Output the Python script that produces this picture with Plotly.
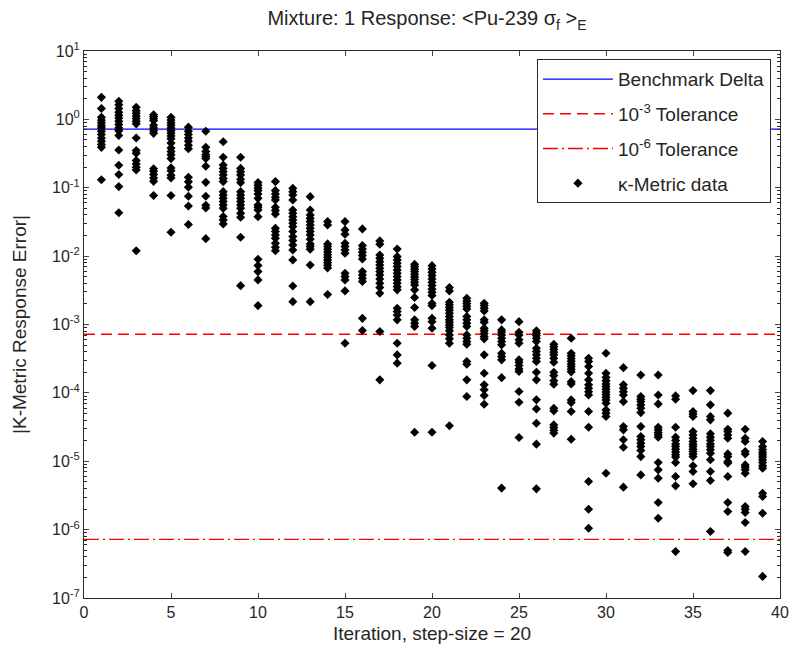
import plotly.graph_objects as go

# |K-metric response error| samples for each iteration (step-size = 20)
it01 = [2.1, 1.44, 1.07, 0.97, 0.885, 0.81, 0.75, 0.67, 0.60, 0.535, 0.48, 0.43, 0.39, 0.131]
it02 = [1.84, 1.64, 1.44, 1.27, 1.15, 1.05, 0.94, 0.84, 0.75, 0.68, 0.58, 0.357, 0.213, 0.156, 0.104, 0.043]
it03 = [1.50, 1.34, 1.23, 1.12, 1.03, 0.94, 0.86, 0.535, 0.35, 0.32, 0.25, 0.223, 0.199, 0.182, 0.012]
it04 = [1.17, 1.10, 1.03, 0.96, 0.82, 0.75, 0.68, 0.625, 0.19, 0.174, 0.156, 0.139, 0.124, 0.077]
it05 = [1.07, 0.98, 0.895, 0.82, 0.75, 0.68, 0.625, 0.57, 0.52, 0.45, 0.38, 0.34, 0.305, 0.267,
        0.195, 0.178, 0.152, 0.139, 0.077, 0.0223]
it06 = [0.77, 0.67, 0.60, 0.535, 0.48, 0.42, 0.373, 0.142, 0.122, 0.102, 0.075, 0.054, 0.029]
it07 = [0.67, 0.39, 0.34, 0.305, 0.285, 0.267, 0.206, 0.12, 0.075, 0.0555, 0.0507, 0.018]
it08 = [0.47, 0.28, 0.215, 0.192, 0.172, 0.154, 0.137, 0.123, 0.0877, 0.0785, 0.070, 0.0627,
        0.056, 0.050, 0.038, 0.0338, 0.0296]
it09 = [0.28, 0.192, 0.172, 0.154, 0.133, 0.119, 0.0877, 0.0785, 0.070, 0.0627, 0.056, 0.050,
        0.0424, 0.037, 0.0189, 0.0037]
it10 = [0.119, 0.109, 0.0993, 0.0908, 0.0811, 0.070, 0.056, 0.0518, 0.0473, 0.0378, 0.009,
        0.00728, 0.00594, 0.00449, 0.00189]
it11 = [0.123, 0.0908, 0.0811, 0.0726, 0.0664, 0.0518, 0.0463, 0.0414, 0.0255, 0.0229, 0.0204,
        0.0182, 0.0154, 0.0135, 0.012]
it12 = [0.098, 0.0877, 0.0785, 0.0664, 0.0473, 0.0424, 0.0378, 0.0338, 0.0302, 0.027, 0.0229,
        0.0193, 0.0169, 0.0146, 0.0123, 0.0088, 0.00366, 0.00216]
it13 = [0.0741, 0.0473, 0.040, 0.0357, 0.032, 0.0286, 0.0255, 0.0229, 0.0204, 0.0177, 0.0151,
        0.0138, 0.0126, 0.00743, 0.00216]
it14 = [0.032, 0.0286, 0.0151, 0.0138, 0.0126, 0.0115, 0.0105, 0.0096, 0.0088, 0.0080, 0.00735,
        0.0067, 0.00274]
it15 = [0.032, 0.0242, 0.0209, 0.0154, 0.0138, 0.0123, 0.011, 0.00561, 0.00502, 0.00449, 0.0031,
        0.000532]
it16 = [0.025, 0.01426, 0.01274, 0.01138, 0.0102, 0.0091, 0.00594, 0.00531, 0.00474, 0.00425,
        0.00123, 0.000815]
it17 = [0.0167, 0.0149, 0.0104, 0.0093, 0.0083, 0.00743, 0.00665, 0.00594, 0.00531, 0.00464,
        0.00401, 0.00347, 0.00286, 0.000789, 0.000155]
it18 = [0.0127, 0.00984, 0.0088, 0.00787, 0.00703, 0.00628, 0.00561, 0.00502, 0.00449, 0.00401,
        0.00358, 0.00321, 0.00173, 0.00155, 0.00138, 0.00117, 0.000532, 0.000359, 0.000272]
it19 = [0.0076, 0.00703, 0.0065, 0.00594, 0.00543, 0.00497, 0.00454, 0.00415, 0.00379, 0.00321,
        0.00248, 0.00177, 0.00117, 0.00104, 0.000933, 2.66e-5]
it20 = [0.00726, 0.0065, 0.00581, 0.00519, 0.00464, 0.00415, 0.00371, 0.00331, 0.00296, 0.00265,
        0.00205, 0.00189, 0.00123, 0.0011, 0.00088, 0.000251, 2.66e-5]
it21 = [0.00347, 0.0031, 0.00212, 0.00194, 0.00177, 0.00162, 0.00146, 0.00131, 0.00117, 0.00108,
        0.000986, 0.000902, 0.000807, 0.000705, 0.000617, 0.000532, 3.3e-5]
it22 = [0.00242, 0.00221, 0.00202, 0.00185, 0.00169, 0.00131, 0.00117, 0.00104, 0.000933,
        0.000705, 0.00063, 0.000564, 0.000515, 0.000287, 0.000262, 0.000155, 8.85e-5]
it23 = [0.00205, 0.00189, 0.00173, 0.00158, 0.00117, 0.00108, 0.000883, 0.000807, 0.000738,
        0.000667, 0.000617, 0.00036, 0.000194, 0.000131, 0.000111, 9.14e-5, 6.82e-5]
it24 = [0.00117, 0.000834, 0.000771, 0.000705, 0.00063, 0.000564, 0.000504, 0.00038, 0.00034,
        0.000304, 0.000167, 4.05e-6]
it25 = [0.0011, 0.000771, 0.000705, 0.000596, 0.000532, 0.000304, 0.000281, 0.000251, 0.000224,
        0.000205, 0.000105, 7.31e-5, 2.22e-5]
it26 = [0.000807, 0.000746, 0.000689, 0.00063, 0.000564, 0.00045, 0.000403, 0.00036, 0.000321,
        0.000287, 0.0002, 0.000155, 7.9e-5, 5.83e-5, 3.6e-5, 1.78e-5, 3.95e-6]
it27 = [0.000515, 0.000471, 0.000431, 0.000394, 0.00036, 0.000321, 0.000281, 0.0002, 0.000179,
        0.00015, 0.000134, 5.97e-5, 5.46e-5, 3.4e-5, 3.11e-5, 2.84e-5, 2.58e-5]
it28 = [0.00063, 0.00038, 0.000348, 0.000318, 0.00029, 0.000265, 0.000243, 0.000222, 0.000203,
        0.000146, 0.000135, 7.89e-5, 7.21e-5, 5.33e-5, 2.1e-5]
it29 = [0.000321, 0.000287, 0.000243, 0.000194, 0.000155, 0.000131, 0.000117, 0.000104, 9.33e-5,
        5.33e-5, 3.15e-5, 5.05e-6, 1.99e-6, 1.05e-6]
it30 = [0.00038, 0.000194, 0.000169, 0.000151, 0.000135, 0.000124, 0.000113, 0.000103, 9.44e-5,
        8.63e-5, 7.89e-5, 7.06e-5, 5.64e-5, 5.05e-5, 4.51e-5, 6.68e-6]
it31 = [0.000234, 0.000131, 0.000117, 0.000104, 9.33e-5, 7.46e-5, 3.22e-5, 2.88e-5, 2.06e-5,
        1.6e-5, 4.18e-6]
it32 = [0.000183, 8.83e-5, 8.07e-5, 7.46e-5, 6.67e-5, 5.97e-5, 5.15e-5, 3.21e-5, 2.3e-5, 2.06e-5,
        1.84e-5, 1.64e-5, 1.44e-5, 1.17e-5, 6.32e-6]
it33 = [0.000183, 9.33e-5, 6.9e-5, 3.15e-5, 2.88e-5, 2.63e-5, 2.43e-5, 2.25e-5, 9.57e-6, 7.48e-6,
        5.65e-6, 2.49e-6, 1.47e-6]
it34 = [9.03e-5, 8.07e-5, 3.15e-5, 2.25e-5, 2.01e-5, 1.79e-5, 1.64e-5, 1.5e-5, 1.37e-5, 1.24e-5,
        1.15e-5, 9.57e-6, 5.98e-6, 4.37e-6, 4.79e-7]
it35 = [0.000108, 5.33e-5, 4.93e-5, 4.51e-5, 2.72e-5, 2.43e-5, 2.17e-5, 1.94e-5, 1.77e-5, 1.64e-5,
        1.5e-5, 1.39e-5, 1.28e-5, 1.17e-5, 8.57e-6, 7.08e-6, 4.68e-6]
it36 = [0.000108, 6.68e-5, 4.51e-5, 4.03e-5, 2.52e-5, 2.25e-5, 2.01e-5, 1.79e-5, 1.64e-5, 1.47e-5,
        1.31e-5, 1.05e-5, 7.08e-6, 5.22e-6, 9.4e-7]
it37 = [5.05e-5, 2.94e-5, 2.72e-5, 2.43e-5, 2.17e-5, 1.28e-5, 1.17e-5, 9.9e-6, 9.4e-6, 5.98e-6,
        2.49e-6, 1.84e-6, 4.95e-7, 4.63e-7]
it38 = [2.94e-5, 2.17e-5, 1.94e-5, 1.39e-5, 1.28e-5, 8.85e-6, 8.18e-6, 7.48e-6, 6.68e-6, 2.18e-6,
        1.99e-6, 1.78e-6, 1.27e-6, 4.79e-7]
it39 = [1.94e-5, 1.64e-5, 1.47e-5, 1.34e-5, 1.24e-5, 1.15e-5, 1.05e-5, 9.57e-6, 8.57e-6, 7.91e-6,
        3.41e-6, 3.05e-6, 1.74e-6, 2.07e-7]

iteration_errors = [it01, it02, it03, it04, it05, it06, it07, it08, it09, it10,
                    it11, it12, it13, it14, it15, it16, it17, it18, it19, it20,
                    it21, it22, it23, it24, it25, it26, it27, it28, it29, it30,
                    it31, it32, it33, it34, it35, it36, it37, it38, it39]

# Reference levels
benchmark_delta = 0.72
tol_1e3 = benchmark_delta * 1e-3
tol_1e6 = benchmark_delta * 1e-6
x_span = [0, 40]

# Axis ticks
x_ticks = [0, 5, 10, 15, 20, 25, 30, 35, 40]
y_exponents = [1, 0, -1, -2, -3, -4, -5, -6, -7]

xs, ys = [], []
for i, vals in enumerate(iteration_errors, start=1):
    xs.extend([i] * len(vals))
    ys.extend(vals)

fig = go.Figure()

fig.add_trace(go.Scatter(
    x=x_span, y=[benchmark_delta] * 2, mode="lines",
    line=dict(color="#0000ff", width=1.2),
    name="Benchmark Delta", legendgroup="a", legendrank=1,
))
fig.add_trace(go.Scatter(
    x=x_span, y=[tol_1e3] * 2, mode="lines",
    line=dict(color="#ff0000", width=1.4, dash="11px,6px"),
    name="10<sup>-3</sup> Tolerance", legendgroup="b", legendrank=2,
))
fig.add_trace(go.Scatter(
    x=x_span, y=[tol_1e6] * 2, mode="lines",
    line=dict(color="#ff0000", width=1.4, dash="15px,4px,2px,4px"),
    name="10<sup>-6</sup> Tolerance", legendgroup="c", legendrank=3,
))
fig.add_trace(go.Scatter(
    x=xs, y=ys, mode="markers",
    marker=dict(symbol="diamond", size=7, color="black"),
    name="κ-Metric data", legendgroup="d", legendrank=4,
))

# minor ticks at 2..9 within each decade
minor_vals = [m * 10.0 ** e for e in range(-7, 1) for m in range(2, 10)]

axis_col = "#2b2b2b"
fig.update_layout(
    width=790, height=657,
    paper_bgcolor="white", plot_bgcolor="white",
    margin=dict(l=84, r=10, t=51, b=59, autoexpand=False),
    font=dict(family="Liberation Sans, Arial, sans-serif", size=16, color="#262626"),
    title=dict(
        text="Mixture: 1 Response: &lt;Pu-239 σ<sub>f</sub> &gt;<sub>E</sub>",
        x=0.5405, xanchor="center", y=0.972, yanchor="middle",
        font=dict(size=20, color="#262626"),
    ),
    showlegend=True,
    legend=dict(
        x=0.987, y=0.985, xanchor="right", yanchor="top",
        bgcolor="white", bordercolor=axis_col, borderwidth=1,
        font=dict(size=19, color="#262626"),
        tracegroupgap=7, itemwidth=70,
    ),
)

fig.update_xaxes(
    range=x_span, tickvals=x_ticks, ticks="inside", ticklen=5,
    showline=True, linecolor=axis_col, linewidth=1, mirror="allticks",
    showgrid=False, zeroline=False, automargin=False, ticklabeloverflow="allow",
    title=dict(text="Iteration, step-size = 20", font=dict(size=19), standoff=6),
    tickfont=dict(size=16),
)
fig.update_yaxes(
    type="log", range=[-7, 1],
    tickvals=[10.0 ** e for e in y_exponents],
    ticktext=[f"10<sup>{e}</sup>" for e in y_exponents],
    ticks="inside", ticklen=5,
    minor=dict(tickvals=minor_vals, ticks="inside", ticklen=3, tickcolor=axis_col, showgrid=False),
    showline=True, linecolor=axis_col, linewidth=1, mirror="allticks",
    showgrid=False, zeroline=False, automargin=False, ticklabeloverflow="allow",
    title=dict(text="|K-Metric Response Error|", font=dict(size=19), standoff=20),
    tickfont=dict(size=16),
)

fig.write_html("out.html")
